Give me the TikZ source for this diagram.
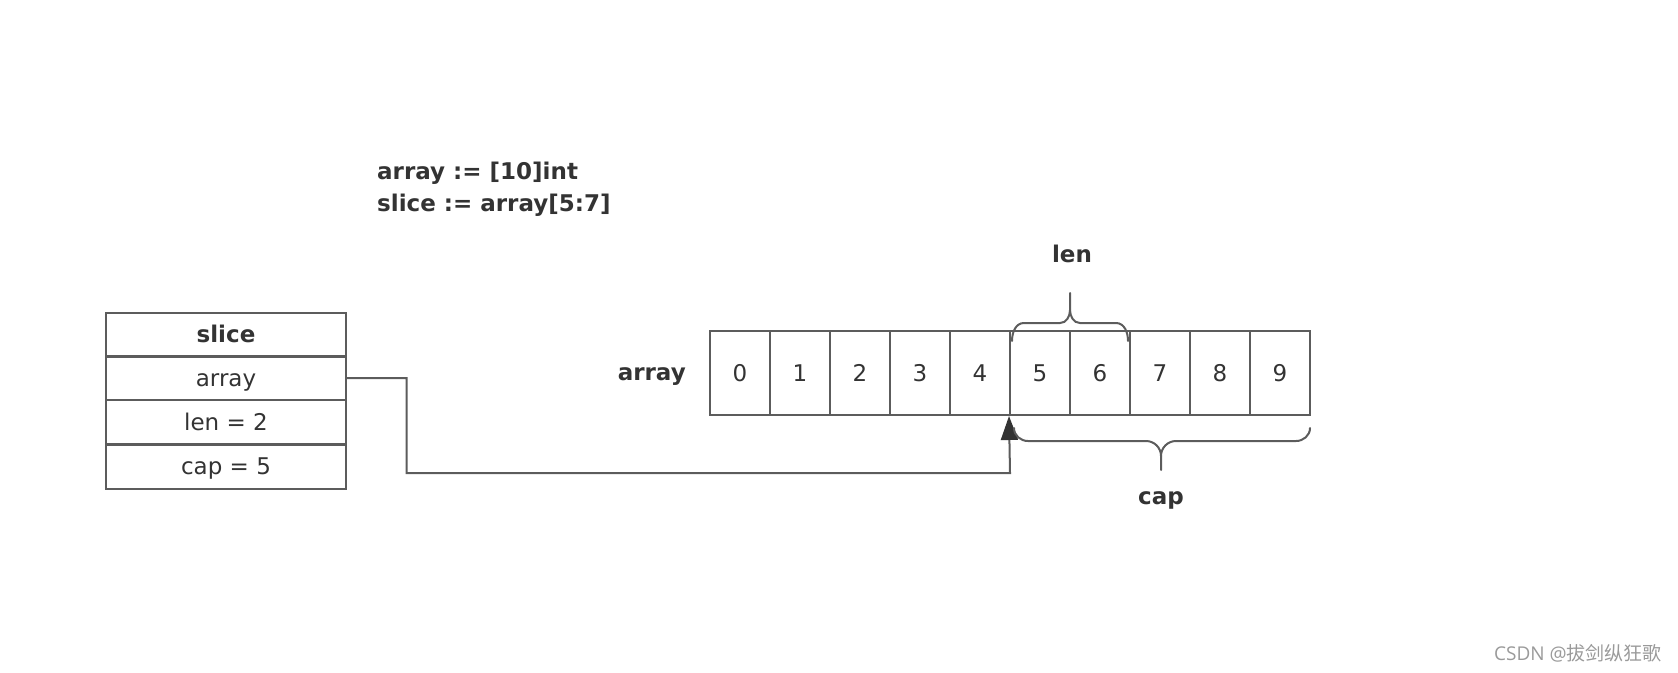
\documentclass[tikz,border=0pt]{standalone}
\usepackage{fontspec}
\setmainfont{DejaVu Sans}
\newfontfamily\wmfont{Open Sans}
\newfontfamily\cjk{Noto Sans CJK SC}
\usetikzlibrary{arrows.meta,calc}
\definecolor{linec}{HTML}{5C5C5C}
\definecolor{textc}{HTML}{333333}
\definecolor{wmc}{HTML}{9A9A9A}
\tikzset{
  cell/.style={draw=linec, line width=2pt, minimum width=60pt, minimum height=84pt, inner sep=0pt, text=textc, font=\fontsize{23}{28}\selectfont, text height=17pt, text depth=0pt},
  row/.style={draw=linec, line width=2pt, minimum width=240pt, minimum height=44pt, inner sep=0pt, text=textc, font=\fontsize{23}{27}\selectfont, text height=19pt, text depth=3pt},
  lbl/.style={text=textc, font=\fontsize{23}{27}\selectfont\bfseries, inner sep=0pt},
  conn/.style={draw=linec, line width=2pt},
  brace/.style={draw=linec, line width=2pt, line cap=round},
}
\begin{document}
\begin{tikzpicture}[x=1pt,y=-1pt]
\useasboundingbox (0,0) rectangle (1678,672);
% code text
\node[lbl, anchor=west, align=left, font=\fontsize{23}{32}\selectfont\bfseries] (code) at (377,189) {array := [10]int\\slice := array[5:7]};
% slice struct
\node[row, font=\fontsize{23}{27}\selectfont\bfseries] (shead) at (226,334.5) {slice};
\node[row] (sarr) at (226,378) {array};
\node[row] (slen) at (226,422) {len = 2};
\node[row] (scap) at (226,466.5) {cap = 5};
% array
\node[lbl, anchor=east, text height=18pt, text depth=4pt] (alabel) at (686,373) {array};
\foreach \i in {0,...,9}{
  \node[cell] (c\i) at ({740+60*\i},373) {\i};
}
% connector
\coordinate (turn1) at (406.5,378);
\coordinate (turn2) at (406.5,473);
\coordinate (turn3) at (1010,473);
\draw[conn, -{Triangle[length=24pt,width=17pt,color=textc]}] (sarr.east) -- (turn1) -- (turn2) -- (turn3) -- (c5.south west);
% len brace
\coordinate (lenL) at (1012,341);
\coordinate (lenR) at (1128,341);
\coordinate (lenT) at (1070,293);
\draw[brace] (lenL) to[out=90,in=180] (1024,323) -- (1060,323) to[out=0,in=-90] (1070,310) -- (lenT);
\draw[brace] (lenR) to[out=90,in=0] (1116,323) -- (1080,323) to[out=180,in=-90] (1070,310);
\node[lbl] (lenlbl) at (1072,254) {len};
% cap brace
\coordinate (capL) at (1014,428);
\coordinate (capR) at (1310,428);
\coordinate (capB) at (1161,470);
\draw[brace] (capL) to[out=-90,in=180] (1028,441) -- (1146,441) to[out=0,in=90] (1161,456) -- (capB);
\draw[brace] (capR) to[out=-90,in=0] (1296,441) -- (1176,441) to[out=180,in=90] (1161,456);
\node[lbl] (caplbl) at (1161,500) {cap};
% watermark
\node[anchor=east, text=wmc, font=\wmfont\fontsize{19}{22}\selectfont, inner sep=0pt] (wm) at (1662,653) {CSDN @{\cjk 拔剑纵狂歌}};
\end{tikzpicture}
\end{document}
